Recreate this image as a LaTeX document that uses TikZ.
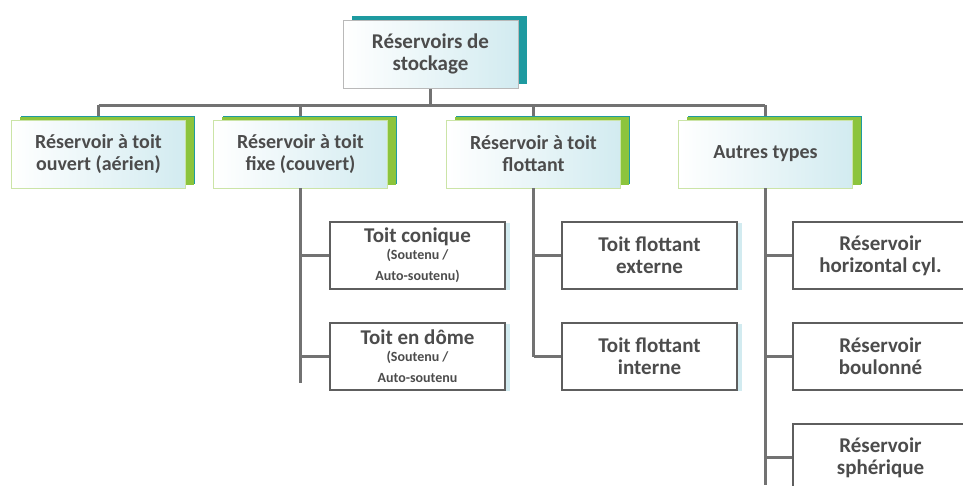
\documentclass[tikz,border=0pt]{standalone}
\usepackage{fontspec}
\setmainfont{Carlito}
\usetikzlibrary{shadows}
\definecolor{txt}{HTML}{4C4C4C}
\definecolor{conncol}{HTML}{727272}
\definecolor{tealband}{HTML}{1E9AA0}
\definecolor{greenband}{HTML}{8CC43C}
\definecolor{lightblue}{HTML}{D2EBF0}
\definecolor{boxline}{HTML}{5E5E5E}
\newcommand{\smalltxt}[1]{{\fontsize{14}{16}\selectfont #1}}
\begin{document}
\begin{tikzpicture}[x=1pt,y=-1pt,
  conn/.style={draw=conncol, line width=3pt},
  branch/.style={draw=conncol, line width=2.5pt},
  topbox/.style={draw=gray!55, line width=0.8pt, left color=white, right color=lightblue,
    general shadow={shadow xshift=9pt, shadow yshift=4pt, fill=tealband},
    minimum width=175pt, minimum height=68pt, align=center, inner sep=2pt,
    text=txt, font=\bfseries\fontsize{21}{22}\selectfont},
  lvlone/.style={topbox, draw=greenband!45,
    general shadow={shadow xshift=8pt, shadow yshift=3pt, fill=greenband},
    minimum width=174pt, font=\bfseries\fontsize{20}{22}\selectfont},
  lvltwo/.style={draw=boxline, line width=1.4pt, fill=white,
    general shadow={shadow xshift=5pt, shadow yshift=-1pt, fill=lightblue},
    minimum width=175pt, minimum height=67pt, align=center, inner sep=2pt,
    text=txt, font=\bfseries\fontsize{21}{22}\selectfont}
]
\useasboundingbox (0,0) rectangle (963,485);
\clip (0,0) rectangle (963,485);
\fill[white] (0,0) rectangle (963,485);

\coordinate (busL) at (98.5,105);
\coordinate (busR) at (765,105);
\coordinate (t2) at (300.5,383);
\coordinate (t4) at (765,485);

% connectors (drawn first, under boxes)
\draw[conn] (430.5,88) -- (430.5,105);
\draw[conn] (busL) -- (busR);
\draw[conn] (busL) -- (98.5,120);
\draw[conn] (300.5,105) -- (300.5,120);
\draw[conn] (533.5,105) -- (533.5,120);
\draw[conn] (765,105) -- (765,120);

% nodes
\node[topbox] (top) at (430.5,54) {Réservoirs de\\stockage};
\node[lvlone] (b1) at (98.5,154) {Réservoir à toit\\ouvert (aérien)};
\node[lvlone] (b2) at (300.5,154) {Réservoir à toit\\fixe (couvert)};
\node[lvlone] (b3) at (533.5,154) {Réservoir à toit\\flottant};
\node[lvlone] (b4) at (765.5,154) {Autres types};

\node[lvltwo] (c1) at (417.5,255.5) {Toit conique\\[-5pt]\smalltxt{(Soutenu /}\\[-1pt]\smalltxt{Auto-soutenu)}};
\node[lvltwo] (c2) at (417.5,356.5) {Toit en dôme\\[-5pt]\smalltxt{(Soutenu /}\\[-1pt]\smalltxt{Auto-soutenu}};
\node[lvltwo] (f1) at (649.5,255.5) {Toit flottant\\externe};
\node[lvltwo] (f2) at (649.5,356.5) {Toit flottant\\interne};
\node[lvltwo] (a1) at (880.5,255.5) {Réservoir\\horizontal cyl.};
\node[lvltwo] (a2) at (880.5,356.5) {Réservoir\\boulonné};
\node[lvltwo] (a3) at (880.5,457.5) {Réservoir\\sphérique};

% level-2 connectors
\draw[conn] (b2.south) -- (t2);
\draw[branch] (b2.south |- c1.west) -- (c1.west);
\draw[branch] (b2.south |- c2.west) -- (c2.west);

\draw[conn] (b3.south) -- (b3.south |- f2.west);
\draw[branch] (b3.south |- f1.west) -- (f1.west);
\draw[branch] (b3.south |- f2.west) -- (f2.west);

\draw[conn] (765,188) -- (t4);
\draw[branch] (t4 |- a1.west) -- (a1.west);
\draw[branch] (t4 |- a2.west) -- (a2.west);
\draw[branch] (t4 |- a3.west) -- (a3.west);
\end{tikzpicture}
\end{document}
